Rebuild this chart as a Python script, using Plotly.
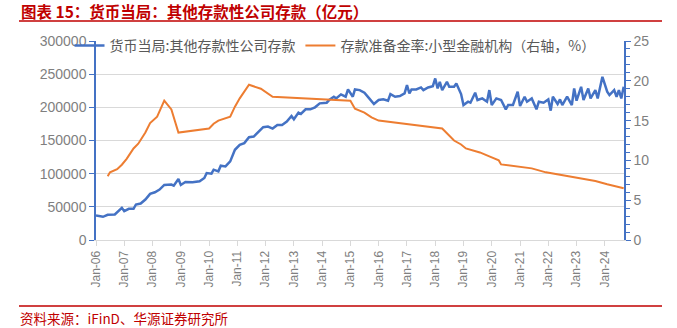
import plotly.graph_objects as go

# Blue series: 货币当局:其他存款性公司存款 (亿元)
dep_dates = ["2006-01","2006-04","2006-06","2006-09","2006-12","2007-01","2007-03","2007-05","2007-06","2007-08",
             "2007-10","2007-12","2008-02","2008-04","2008-06","2008-09","2008-10","2008-12","2009-01","2009-03",
             "2009-06","2009-09","2009-11","2009-12","2010-02","2010-03","2010-05","2010-06","2010-08","2010-10",
             "2010-12","2011-02","2011-04","2011-06","2011-08","2011-10","2011-12","2012-02","2012-04","2012-06",
             "2012-08","2012-10","2012-12","2013-01","2013-03","2013-04","2013-06","2013-08","2013-10","2013-12",
             "2014-03","2014-04","2014-06","2014-07","2014-09","2014-11","2014-12","2015-02","2015-03","2015-05",
             "2015-07","2015-09","2015-11","2016-01","2016-03","2016-05","2016-06","2016-08","2016-10","2016-12",
             "2017-01","2017-02","2017-03","2017-05","2017-07","2017-08","2017-10","2017-12","2018-01","2018-02",
             "2018-03","2018-04","2018-06","2018-07","2018-09","2018-10","2018-12","2019-01","2019-03","2019-04",
             "2019-06","2019-07","2019-09","2019-11","2019-12","2020-01","2020-03","2020-05","2020-07","2020-08",
             "2020-10","2020-12","2021-01","2021-03","2021-04","2021-06","2021-08","2021-09","2021-11","2022-01",
             "2022-02","2022-03","2022-05","2022-06","2022-07","2022-09","2022-11","2022-12","2023-01","2023-03",
             "2023-04","2023-06","2023-07","2023-09","2023-10","2023-12","2024-02","2024-03","2024-05","2024-06",
             "2024-07","2024-08","2024-09"]
dep_values = [37000,35000,38000,38500,48500,43500,47000,47000,53500,55000,
              61000,69500,72000,76000,83000,83500,82000,92000,83000,87500,
              87000,88500,93500,101000,100000,106000,103500,112000,111000,118500,
              136000,143500,146000,155000,156000,163500,170000,171000,168000,173500,
              173500,178500,187000,182000,192000,190000,197000,197000,200000,206000,
              207000,211000,216000,213500,219500,216000,227000,216000,227000,226000,
              222000,213500,205000,211000,212000,210000,220000,216000,217000,221000,
              233500,221000,227000,227000,230000,226000,230000,232000,243500,228500,
              238500,226000,238500,231000,231000,236000,220000,203500,208500,207000,
              222000,211000,213500,208500,226000,203500,213500,211000,197000,203500,
              203500,223500,202000,216000,208500,213500,197000,208500,207000,212000,
              195000,216000,205000,212000,203500,216000,203500,228500,210000,231000,
              211000,228500,213500,226000,213500,246000,223500,218500,226000,216000,
              226000,213500,231000]

# Orange series: 存款准备金率:小型金融机构 (%), right axis
rrr_dates = ["2006-06","2006-07","2006-10","2006-12","2007-02","2007-05","2007-07","2007-10","2007-12","2008-03",
             "2008-06","2008-09","2008-12","2010-01","2010-03","2010-05","2010-10","2010-12","2011-02","2011-06",
             "2011-11","2012-04","2015-01","2015-03","2015-07","2015-10","2016-01","2018-04","2018-09","2018-12",
             "2019-02","2019-08","2019-12","2020-04","2020-05","2021-06","2021-12","2022-04","2022-10","2023-05",
             "2023-09","2024-02","2024-09"]
rrr_values = [8.0,8.5,8.9,9.46,10.2,11.5,12.1,13.5,14.7,15.5,
              17.5,16.4,13.5,14.0,14.6,15.0,15.5,16.75,17.8,19.5,
              19.0,18.0,17.5,16.5,16.0,15.4,15.0,14.0,12.5,12.0,
              11.5,11.0,10.5,10.0,9.5,9.0,8.5,8.3,8.0,7.6,
              7.4,7.0,6.5]

left_ticks = [0, 50000, 100000, 150000, 200000, 250000, 300000]
right_ticks = [0, 5, 10, 15, 20, 25]

title_text = "图表 15：货币当局：其他存款性公司存款（亿元）"
source_text = "资料来源：iFinD、华源证券研究所"
name_dep = "货币当局:其他存款性公司存款"
name_rrr = "存款准备金率:小型金融机构（右轴，%）"

CJK = "Noto Sans CJK SC"
LAT = "Liberation Sans, Arial, sans-serif"
GRAY = "#7F7F7F"
BLUE = "#4472C4"
ORANGE = "#ED7D31"
RED = "#C00000"

fig = go.Figure()
fig.add_trace(go.Scatter(x=dep_dates, y=dep_values, mode="lines", name=name_dep,
                         line=dict(color=BLUE, width=2.5)))
fig.add_trace(go.Scatter(x=rrr_dates, y=rrr_values, mode="lines", name=name_rrr, yaxis="y2",
                         line=dict(color=ORANGE, width=2)))

W, H = 677, 328
L, R, T, B = 96, 53, 41, 88
pw, ph = W - L - R, H - T - B

def px(xp):
    return (xp - L) / pw

def py(yp):
    return (H - B - yp) / ph

fig.update_layout(
    width=W, height=H,
    margin=dict(l=L, r=R, t=T, b=B),
    paper_bgcolor="white", plot_bgcolor="white",
    font=dict(family=f"{LAT}, {CJK}", color=GRAY, size=14),
    showlegend=True,
    legend=dict(orientation="h", x=px(335), y=py(46), xanchor="center", yanchor="middle",
                font=dict(family=CJK, size=14, color="#595959"), bgcolor="rgba(0,0,0,0)",
                tracegroupgap=0),
    xaxis=dict(type="date", range=["2006-01-01", "2024-09-05"],
               tickmode="array",
               tickvals=[f"{y}-01-01" for y in range(2006, 2025)],
               tickformat="%b-%y", tickangle=-90,
               tickfont=dict(size=12, color=GRAY, family=LAT),
               showgrid=False, showline=True, linecolor="#D9D9D9", linewidth=1,
               ticks="outside", ticklen=5, tickcolor="#D9D9D9", zeroline=False),
    yaxis=dict(range=[0, 300000], tickmode="array", tickvals=left_ticks, tickformat="d",
               tickfont=dict(size=14, color=GRAY, family=LAT),
               showgrid=True, gridcolor="#D9D9D9", gridwidth=1,
               showline=True, linecolor=BLUE, linewidth=1.5,
               ticks="outside", ticklen=5, tickcolor=BLUE, zeroline=False),
    yaxis2=dict(range=[0, 25], tickmode="array", tickvals=right_ticks, overlaying="y", side="right",
                tickfont=dict(size=14, color=GRAY, family=LAT),
                showgrid=False, showline=True, linecolor=BLUE, linewidth=1.5,
                ticks="outside", ticklen=5, tickcolor=BLUE, zeroline=False,
                minor=dict(dtick=1, ticks="outside", ticklen=4, tickcolor=BLUE, showgrid=False)),
)

fig.add_annotation(text=f"<b>{title_text}</b>", xref="paper", yref="paper",
                   x=px(20), y=py(11.5), xanchor="left", yanchor="middle", showarrow=False,
                   borderpad=0, font=dict(family=CJK, size=15.5, color=RED))
fig.add_annotation(text=source_text, xref="paper", yref="paper",
                   x=px(19), y=py(318), xanchor="left", yanchor="middle", showarrow=False,
                   borderpad=0, font=dict(family=CJK, size=13.5, color=RED))
fig.add_shape(type="line", xref="paper", yref="paper", x0=px(19), x1=px(662), y0=py(21), y1=py(21),
              line=dict(color=RED, width=1.5))
fig.add_shape(type="line", xref="paper", yref="paper", x0=px(19), x1=px(662), y0=py(306), y1=py(306),
              line=dict(color=RED, width=1.5))

fig.write_html("out.html")
